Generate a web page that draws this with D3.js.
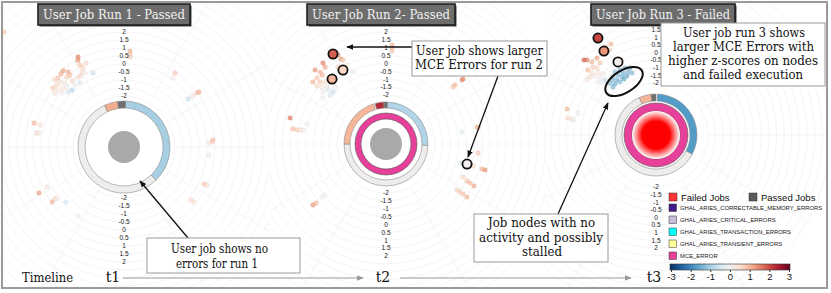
<!DOCTYPE html>
<html>
<head>
<meta charset="utf-8">
<script src="https://cdn.jsdelivr.net/npm/d3@7"></script>
<style>
  body { margin: 0; background: #fff; }
  svg { display: block; }
</style>
</head>
<body>
<svg id="chart"></svg>
<script>
// ---- data ----
const runTitles = ["User Job Run 1 - Passed", "User Job Run 2- Passed", "User Job Run 3 - Failed"];
const jobStatus = ["Passed", "Passed", "Failed"];
const hasMceRing = [false, true, true];
const timeLabels = ["t1", "t2", "t3"];
const zTicks = [-2, -1.5, -1, -0.5, 0, 0.5, 1, 1.5, 2];

// outer ring segments: [startDeg, endDeg, z] (z null = job block)
const ringRun1 = [[2, 136, -1.0], [136, 335, 0], [335, 352, 1.1], [352, 362, null]];
const ringRun2 = [[2, 92, -0.9], [92, 270, 0], [270, 343, 1.0], [345, 357, 2.3], [357, 362, null]];
const ringRun3 = [[2, 118, -1.7], [118, 336, 0], [336, 353, 1.0], [353, 360, null]];

// nodes: [angleDeg, radial z-score, colour z]
const nodesRun1 = [
  [313.8, 5.2, 0.8],
  [333, 1.13, 1.5], [332, 0.96, 1.3], [335.7, 0.58, 0.5], [331.8, 0.63, 0.8], [332.6, 0.38, 0.6], [330.8, 0.19, 0.4],
  [321.3, 0.91, 1.2], [319.2, 0.84, 1.0], [323.3, 0.66, 1.1], [323.1, 0.44, 0.9], [320.8, 0.46, 0.7], [316.3, 0.78, 0.8],
  [314.2, 0.82, 0.6], [315.4, 0.51, 0.4], [317.3, 0.25, 0.3], [321.8, 0.06, 0.5], [325.7, 0.03, 0.2], [328.2, 0.03, 0.6],
  [332.2, 0.04, 0.1], [337.3, -0.17, -0.6], [312.8, 0.52, 0.5], [309.7, 0.58, 0.7], [310.8, 0.26, 0.2], [314, 0.12, 0.3],
  [316.5, -0.01, 0.0], [314.5, -0.28, -0.5], [317.6, -0.37, -0.8], [311.1, -0.05, 0.1], [308, 0.29, 0.4], [321.7, -0.25, 0.0], [325.5, -0.33, -0.4],
  [284.9, 0.63, 1.0], [284.7, 0.24, 0.4], [279.1, 0.32, 0.5], [279.3, 0.19, 0.2],
  [3.6, 0.82, 1.0], [3.7, 0.64, 0.8], [3.8, 0.45, 0.7],
  [34.6, 0.43, 0.8], [35.4, 0.1, 0.0],
  [53.1, -0.19, -0.6], [53.5, 0.18, 0.4], [53.5, 0.49, 0.7], [53.7, 0.63, 1.0],
  [87.3, 0.13, 0.3], [86.7, 0.32, 0.6], [85.5, 0.39, 0.9], [95.4, 0.15, -0.2],
  [114.8, 0.32, 0.8], [114.6, 0.52, 0.5], [128.3, 0.15, 0.5], [128.2, 0.38, 0.3],
  [241.6, 0.85, 1.2], [242.5, 0.24, 0.3], [232.6, 0.47, 1.0], [233, 0.21, 0.6], [232.7, 0.07, 0.2], [226.5, -0.19, -0.5], [213.7, 0, -0.1]
];
const nodesRun2 = [
  [332.1, 1.0, 1.2], [331.7, 1.31, 1.4], [322.1, 1.4, 1.5], [321.6, 1.12, 1.1], [316.2, 1.4, 1.3], [317.5, 1.09, 0.9],
  [317.2, 0.86, 1.0], [313.7, 0.95, 0.8], [310.3, 0.97, 1.0], [313.2, 0.64, 0.7], [315.5, 0.41, 0.5], [310, 0.61, 0.5],
  [311.7, 0.33, 0.3], [314, 0.1, 0.2], [309.5, 0.08, 0.0], [313, -0.08, -0.3], [314.5, -0.39, -0.6], [318.2, -0.25, -0.2],
  [335.4, -0.08, -0.2], [333.7, 0.48, 0.3], [328, 0.65, 0.6], [332.9, 0.88, 0.8], [306.1, -0.16, 0.0], [311.2, -0.39, -0.4],
  [3.5, 1.19, 1.0], [3.6, 1.0, 0.9], [3.7, 0.81, 0.8],
  [49.9, 1.2, 1.3], [49.8, 1.29, 1.4], [49.5, 0.65, 1.0], [49.6, 0.48, 0.8],
  [285.2, 1.2, 1.6], [284.2, 0.06, 0.1], [279.2, 0.87, 0.9], [279.1, 0.61, 0.7], [279.4, 0.36, 0.4], [279.5, 0.22, 0.2],
  [79.4, 0.77, 1.0], [80.1, 0.82, 0.8], [81, -0.23, -0.3],
  [95.6, 0.76, 0.8], [104.2, -0.2, -0.5], [104.2, 0.59, 0.6], [104.6, 1.19, 1.0], [104.7, 1.39, 1.3],
  [113.2, 0.21, 0.6], [114.5, 0.54, 0.8], [114.9, 0.77, 0.9], [115.5, 1.08, 1.1],
  [122.9, 0.26, 0.6], [123, 0.49, 0.7], [123, 0.72, 0.8], [123.2, 1.03, 1.0],
  [230.1, 0.93, 1.3], [229.9, 0.7, 1.0], [230.4, 0.17, -0.1], [230.1, -0.06, 0.0]
];
const nodesRun3 = [
  [333.7, 1.25, 1.0], [330.4, 1.23, 0.8], [331.6, 0.93, 0.6], [317.4, 1.27, 1.5], [318.8, 0.96, 1.0], [322.5, 0.95, 1.2],
  [322.1, 0.57, 0.8], [317.2, 0.67, 0.7], [318.6, 0.45, 0.5], [313.7, 0.76, 0.9], [314.1, 0.43, 0.4], [317.4, 0.2, 0.3],
  [314, 0.16, 0.2], [311.3, 0.35, 0.4], [316, -0.12, 0.0], [319, -0.11, 0.1], [317.2, -0.49, -0.6], [314.5, -0.45, -0.2],
  [312.4, -0.26, 0.0], [316.2, -0.77, -0.7], [308.6, 0.38, 0.3], [316.2, 1.41, 1.8],
  [326.9, -0.48, -1.2], [331, -0.54, -1.3], [335.2, -0.57, -1.2], [338.8, -0.7, -1.4], [336, -0.89, -1.3], [332, -0.81, -1.4],
  [327.7, -0.75, -1.3], [323.4, -0.68, -1.2], [321.3, -0.79, -1.3], [324.7, -0.99, -1.4], [329.6, -1.0, -1.3], [333.8, -1.1, -1.5],
  [338.8, -1.05, -1.3], [318.5, -0.86, -1.2], [321.2, -1.12, -1.4], [325.8, -1.21, -1.3], [330.3, -1.18, -1.5], [318.1, -1.19, -1.3],
  [286.3, 0.67, 1.0], [285.8, -0.1, 0.0], [280.9, 0.47, 0.5], [280.8, 0.2, 0.2], [280.4, 0.11, 0.0]
];
// circled nodes
const flaggedRun1 = [];
const flaggedRun2 = [[329.5, 1.52, 1.8], [329.8, 0.32, 0.6], [320.3, 0.25, 1.0], [103.9, 0.19, 0.0]];
const flaggedRun3 = [[329.1, 2.0, 2.0], [328.2, 1.07, 1.3], [332.5, -0.01, 0.1]];

const legendJobs = ["Failed Jobs", "Passed Jobs"];
const legendErrors = ["GHAL_ARIES_CORRECTABLE_MEMORY_ERRORS", "GHAL_ARIES_CRITICAL_ERRORS",
  "GHAL_ARIES_TRANSACTION_ERRORS", "GHAL_ARIES_TRANSIENT_ERRORS", "MCE_ERROR"];
const colorTicks = [-3, -2, -1, 0, 1, 2, 3];

// ---- styles / layout ----
const W = 831, H = 293;
const serif = "'DejaVu Serif', serif";
const sans = "'Liberation Sans', Arial, sans-serif";
const errorColors = ["#3f1d8a", "#c9bddc", "#00ffff", "#ffff99", "#e7409a"];
const jobColors = {Failed: "#ff3333", Passed: "#5a5a5a"};

const panels = [
  {cx: 124, cy: 147, rIn: 51, rOut: 115, clip: [3, 3, 266, 284], ring: [39, 46], ringData: ringRun1, nodes: nodesRun1, flagged: flaggedRun1},
  {cx: 386, cy: 144, rIn: 49, rOut: 112, clip: [270, 3, 276, 284], ring: [36, 42], ringData: ringRun2, nodes: nodesRun2, flagged: flaggedRun2},
  {cx: 656, cy: 135, rIn: 52, rOut: 113, clip: [546, 3, 280, 284], ring: [34, 41], ringData: ringRun3, nodes: nodesRun3, flagged: flaggedRun3}
];
const mceRadii = [[0, 0], [25, 31], [24, 32]];
const titleBoxes = [[38, 152], [307, 148], [591, 144]];

const zColor = d3.scaleDiverging(t => d3.interpolateRdBu(1 - t)).domain([-3, 0, 3]);
const rad = d => d * Math.PI / 180;

const svg = d3.select("#chart").attr("width", W).attr("height", H);
const defs = svg.append("defs");

function marker(id, color) {
  defs.append("marker").attr("id", id)
    .attr("viewBox", "0 0 10 10").attr("refX", 9).attr("refY", 5)
    .attr("markerWidth", 7).attr("markerHeight", 7)
    .attr("markerUnits", "userSpaceOnUse")
    .attr("orient", "auto")
    .append("path").attr("d", "M0,1L10,5L0,9z").attr("fill", color);
}
marker("arrowBlack", "#111");
marker("arrowGray", "#9a9a9a");

const glow = defs.append("radialGradient").attr("id", "failGlow");
glow.append("stop").attr("offset", "58%").attr("stop-color", "#ff0000");
glow.append("stop").attr("offset", "100%").attr("stop-color", "#ffffff");

// outer frame
svg.append("rect").attr("x", 2).attr("y", 2).attr("width", 825).attr("height", 286)
  .attr("fill", "#fff").attr("stroke", "#9a9a9a").attr("stroke-width", 2);

panels.forEach((p, i) => {
  const rScale = d3.scaleLinear().domain([-2, 2]).range([p.rIn, p.rOut]);
  defs.append("clipPath").attr("id", "clip" + i)
    .append("rect").attr("x", p.clip[0]).attr("y", p.clip[1]).attr("width", p.clip[2]).attr("height", p.clip[3]);

  const g = svg.append("g").attr("clip-path", "url(#clip" + i + ")")
    .append("g").attr("transform", `translate(${p.cx},${p.cy})`);

  // concentric grid
  g.selectAll("circle.grid").data(d3.range(-2, 6.01, 0.5)).enter()
    .append("circle").attr("class", "grid")
    .attr("r", d => rScale(d))
    .attr("fill", "none").attr("stroke", "#f1f1f1").attr("stroke-width", 0.8);

  // spokes
  g.selectAll("line.spoke").data(d3.range(30, 360, 30).filter(a => a !== 180)).enter()
    .append("line").attr("class", "spoke")
    .attr("x1", a => d3.pointRadial(rad(a), rScale(-2))[0])
    .attr("y1", a => d3.pointRadial(rad(a), rScale(-2))[1])
    .attr("x2", a => d3.pointRadial(rad(a), rScale(6))[0])
    .attr("y2", a => d3.pointRadial(rad(a), rScale(6))[1])
    .attr("stroke", "#f3f3f3").attr("stroke-width", 0.8);

  // nodes
  g.selectAll("circle.node").data(p.nodes).enter()
    .append("circle").attr("class", "node")
    .attr("cx", d => d3.pointRadial(rad(d[0]), rScale(d[1]))[0])
    .attr("cy", d => d3.pointRadial(rad(d[0]), rScale(d[1]))[1])
    .attr("r", 2.3)
    .attr("fill", d => zColor(d[2])).attr("fill-opacity", 0.7)
    .attr("stroke", d => d3.color(zColor(d[2])).darker(0.4)).attr("stroke-opacity", 0.5).attr("stroke-width", 0.5);

  // outer ring
  const arc = d3.arc().innerRadius(p.ring[0]).outerRadius(p.ring[1]);
  g.selectAll("path.seg").data(p.ringData).enter()
    .append("path").attr("class", "seg")
    .attr("d", d => arc({startAngle: rad(d[0]), endAngle: rad(d[1])}))
    .attr("fill", d => d[2] === null ? "#6f6f6f" : (d[2] === 0 ? "#efedeb" : zColor(d[2])))
    .attr("stroke", "#8c8c8c").attr("stroke-width", 0.6);

  // error-type ring
  if (hasMceRing[i]) {
    const r = mceRadii[i];
    g.append("path")
      .attr("d", d3.arc().innerRadius(r[0]).outerRadius(r[1])({startAngle: 0, endAngle: 2 * Math.PI}))
      .attr("fill", errorColors[4]).attr("stroke", "#555").attr("stroke-width", 0.6);
  }

  // job centre
  if (jobStatus[i] === "Failed") {
    g.append("circle").attr("r", 24).attr("fill", "url(#failGlow)");
  } else {
    g.append("circle").attr("r", 16).attr("fill", "#a9a9a9");
  }

  // radial axis labels, up and down (the top "2" of run 3 sits under its title box)
  [-1, 1].forEach(dir => {
    const ticks = zTicks.filter(d => !(dir < 0 && p.cy - rScale(d) < 27));
    g.selectAll("text.tick" + dir).data(ticks).enter()
      .append("text")
      .attr("x", 0).attr("y", d => dir * rScale(d))
      .attr("dy", "0.35em").attr("text-anchor", "middle")
      .attr("font-family", sans).attr("font-size", 6.5).attr("fill", "#222")
      .text(d => d);
  });

  // circled nodes
  g.selectAll("circle.flag").data(p.flagged).enter()
    .append("circle").attr("class", "flag")
    .attr("cx", d => d3.pointRadial(rad(d[0]), rScale(d[1]))[0])
    .attr("cy", d => d3.pointRadial(rad(d[0]), rScale(d[1]))[1])
    .attr("r", 4.6)
    .attr("fill", d => zColor(d[2]))
    .attr("stroke", "#111").attr("stroke-width", 1.8);

  // title box
  const tb = titleBoxes[i];
  svg.append("rect").attr("x", tb[0] + 1.5).attr("y", 5.5).attr("width", tb[1]).attr("height", 21).attr("fill", "#444");
  svg.append("rect").attr("x", tb[0]).attr("y", 4).attr("width", tb[1]).attr("height", 21)
    .attr("fill", "#6d6d6d").attr("stroke", "#1e1e1e").attr("stroke-width", 1.6);
  svg.append("text").attr("x", tb[0] + tb[1] / 2).attr("y", 19)
    .attr("text-anchor", "middle").attr("font-family", serif).attr("font-size", 13)
    .attr("textLength", tb[1] - 10).attr("lengthAdjust", "spacingAndGlyphs")
    .attr("fill", "#f2f2f2").text(runTitles[i]);
});

// blue-cluster ellipse in run 3
svg.append("ellipse").attr("cx", 624).attr("cy", 81.5).attr("rx", 21).attr("ry", 11)
  .attr("transform", "rotate(-32,624,81.5)")
  .attr("fill", "none").attr("stroke", "#111").attr("stroke-width", 2);

// annotation arrows
const arrows = [[188, 238, 140, 181], [412, 47, 347, 47], [498, 76, 468, 157], [558, 214, 608, 103]];
svg.selectAll("line.arrow").data(arrows).enter().append("line")
  .attr("x1", d => d[0]).attr("y1", d => d[1]).attr("x2", d => d[2]).attr("y2", d => d[3])
  .attr("stroke", "#111").attr("stroke-width", 1.3).attr("marker-end", "url(#arrowBlack)");

// annotation boxes
const notes = [
  {box: [147, 238, 153, 35], lines: [["User job shows no", 219.5, 253, 97], ["errors for run 1", 217, 268, 82]]},
  {box: [412, 41, 135, 35], lines: [["User job shows larger", 479.5, 55, 127], ["MCE Errors for run 2", 479, 69, 128]]},
  {box: [474, 214, 134, 48], lines: [["Job nodes with no", 541.5, 227, 107], ["activity and possibly", 541, 242, 124], ["stalled", 542, 256, 40]]},
  {box: [661, 23, 164, 63], lines: [["User job run 3 shows", 744, 37, 122], ["larger MCE Errors with", 743.5, 51, 141],
    ["higher z-scores on nodes", 743, 65, 150], ["and failed execution", 743, 79, 120]]}
];
notes.forEach(n => {
  svg.append("rect").attr("x", n.box[0]).attr("y", n.box[1]).attr("width", n.box[2]).attr("height", n.box[3])
    .attr("fill", "#fff").attr("stroke", "#9a9a9a").attr("stroke-width", 1);
  n.lines.forEach(l => {
    svg.append("text").attr("x", l[1]).attr("y", l[2]).attr("text-anchor", "middle")
      .attr("font-family", serif).attr("font-size", 13).attr("fill", "#111")
      .attr("textLength", l[3]).attr("lengthAdjust", "spacingAndGlyphs").text(l[0]);
  });
});

// timeline
svg.append("text").attr("x", 22).attr("y", 282).attr("font-family", serif).attr("font-size", 13)
  .attr("textLength", 51).attr("lengthAdjust", "spacingAndGlyphs").attr("fill", "#111").text("Timeline");
const tX = [113, 383, 654];
svg.selectAll("text.t").data(timeLabels).enter().append("text")
  .attr("x", (d, i) => tX[i]).attr("y", 282).attr("text-anchor", "middle")
  .attr("font-family", serif).attr("font-size", 14).attr("fill", "#111").text(d => d);
[[123, 363], [400, 631]].forEach(s => {
  svg.append("line").attr("x1", s[0]).attr("x2", s[1]).attr("y1", 278).attr("y2", 278)
    .attr("stroke", "#9a9a9a").attr("stroke-width", 1.2).attr("marker-end", "url(#arrowGray)");
});

// legend
const lg = svg.append("g");
legendJobs.forEach((d, i) => {
  const x = i === 0 ? 669 : 749;
  lg.append("rect").attr("x", x).attr("y", 193).attr("width", 8).attr("height", 8)
    .attr("fill", jobColors[d.split(" ")[0]]).attr("stroke", "#333").attr("stroke-width", 0.5);
  lg.append("text").attr("x", x + 12).attr("y", 200.5).attr("font-family", sans).attr("font-size", 9.5)
    .attr("fill", "#111").text(d);
});
const legendY = d3.scaleLinear().domain([0, 4]).range([208, 256]);
legendErrors.forEach((d, i) => {
  lg.append("rect").attr("x", 669).attr("y", legendY(i) - 4).attr("width", 7.5).attr("height", 7.5)
    .attr("fill", errorColors[i]).attr("stroke", "#333").attr("stroke-width", 0.5);
  lg.append("text").attr("x", 680).attr("y", legendY(i) + 2.4).attr("font-family", sans).attr("font-size", 5.9)
    .attr("fill", "#222").text(d);
});

// colour bar
const cbX = d3.scaleLinear().domain([-3, 3]).range([671, 789]);
const cbGrad = defs.append("linearGradient").attr("id", "cbGrad");
d3.range(-3, 3.01, 0.5).forEach(v => {
  cbGrad.append("stop").attr("offset", (v + 3) / 6).attr("stop-color", zColor(v));
});
lg.append("rect").attr("x", cbX(-3) - 1).attr("y", 264).attr("width", cbX(3) - cbX(-3) + 2).attr("height", 6)
  .attr("fill", "url(#cbGrad)").attr("stroke", "#333").attr("stroke-width", 0.6);
const cbAxis = lg.append("g").attr("transform", "translate(0,270)")
  .call(d3.axisBottom(cbX).tickValues(colorTicks).tickFormat(d => String(d)).tickSize(2).tickPadding(1));
cbAxis.select(".domain").remove();
cbAxis.selectAll("text").attr("font-family", sans).attr("font-size", 9.5).attr("fill", "#111");
cbAxis.selectAll("line").attr("stroke", "#333");
</script>
</body>
</html>
